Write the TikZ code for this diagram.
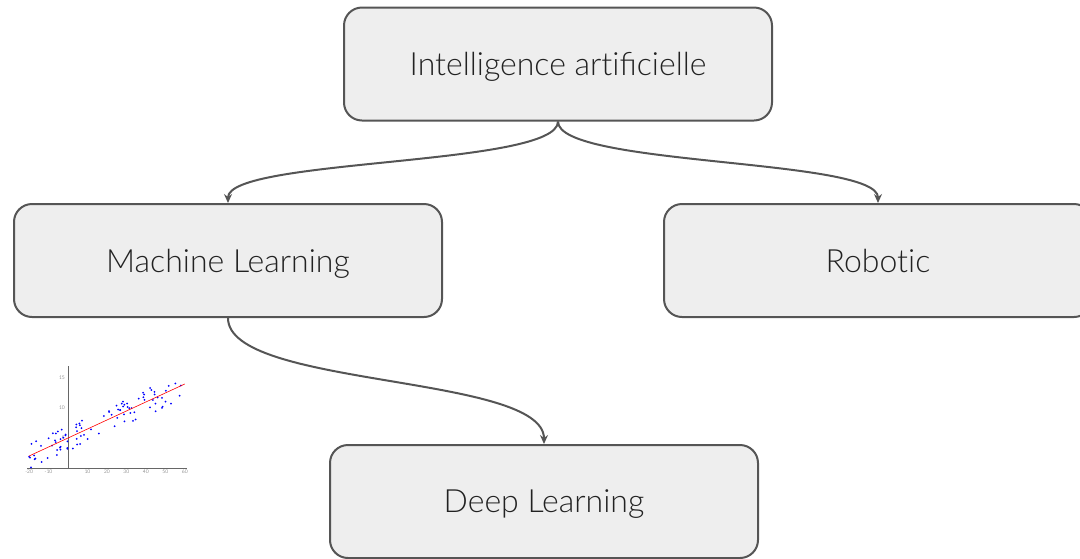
\documentclass[tikz,border=0pt]{standalone}
\usepackage{fontspec}
\setmainfont{Lato Light}
\usetikzlibrary{arrows.meta}

\definecolor{boxfill}{HTML}{EEEEEE}
\definecolor{boxline}{HTML}{555555}
\definecolor{txt}{HTML}{222222}

\tikzset{
    topic/.style={draw=boxline, fill=boxfill, line width=2pt, rounded corners=18pt,
        minimum width=428pt, minimum height=113pt, text=txt, text depth=0pt,
        font=\fontsize{32}{38}\selectfont},
    link/.style={draw=boxline, line width=2pt,
        -{Stealth[length=9pt,width=8pt,inset=3pt]}},
    tick/.style={font=\fontsize{5}{5}\selectfont, text=black!75, inner sep=0pt},
}

\begin{document}
\begin{tikzpicture}[x=1pt,y=-1pt]
    \useasboundingbox (0,0) rectangle (1080,558);

    \node[topic] (ia) at (558,64) {Intelligence art\kern0pt ificielle};
    \node[topic] (ml) at (228,260.5) {Machine Learning};
    \node[topic] (rob) at (878,260.5) {Robot\kern0pt ic};
    \node[topic] (dl) at (544,501.5) {Deep Learning};

    \draw[link] (ia.south) .. controls +(0,45) and +(0,-45) .. (ml.north);
    \draw[link] (ia.south) .. controls +(0,45) and +(0,-45) .. (rob.north);
    \draw[link] (ml.south) .. controls +(0,70) and +(0,-70) .. (dl.north);

    % small regression plot
    \begin{scope}[shift={(68,468)}, x=1.946pt, y=6pt]
        \draw[black!60, line width=0.4pt] (-21,0) -- (61,0);
        \draw[black!60, line width=0.4pt] (0,0) -- (0,17);
        \foreach \x in {-20,-10,10,20,30,40,50,60}
            \node[tick, anchor=north] (xt\x) at (\x,-0.25) {\x};
        \foreach \y in {5,10,15}
            \node[tick, anchor=east] (yt\y) at (-1.5,\y) {\y};
        \pgfmathsetseed{11}
        \foreach \i in {1,...,95} {
            \pgfmathsetmacro\px{-20+80*rnd}
            \pgfmathsetmacro\py{max(0.1,5+0.15*\px+2.3*rand)}
            \fill[blue] (\px,\py) circle[radius=1pt];
        }
        \draw[red, line width=0.6pt] (-20,2) -- (60,14);
    \end{scope}
\end{tikzpicture}
\end{document}
